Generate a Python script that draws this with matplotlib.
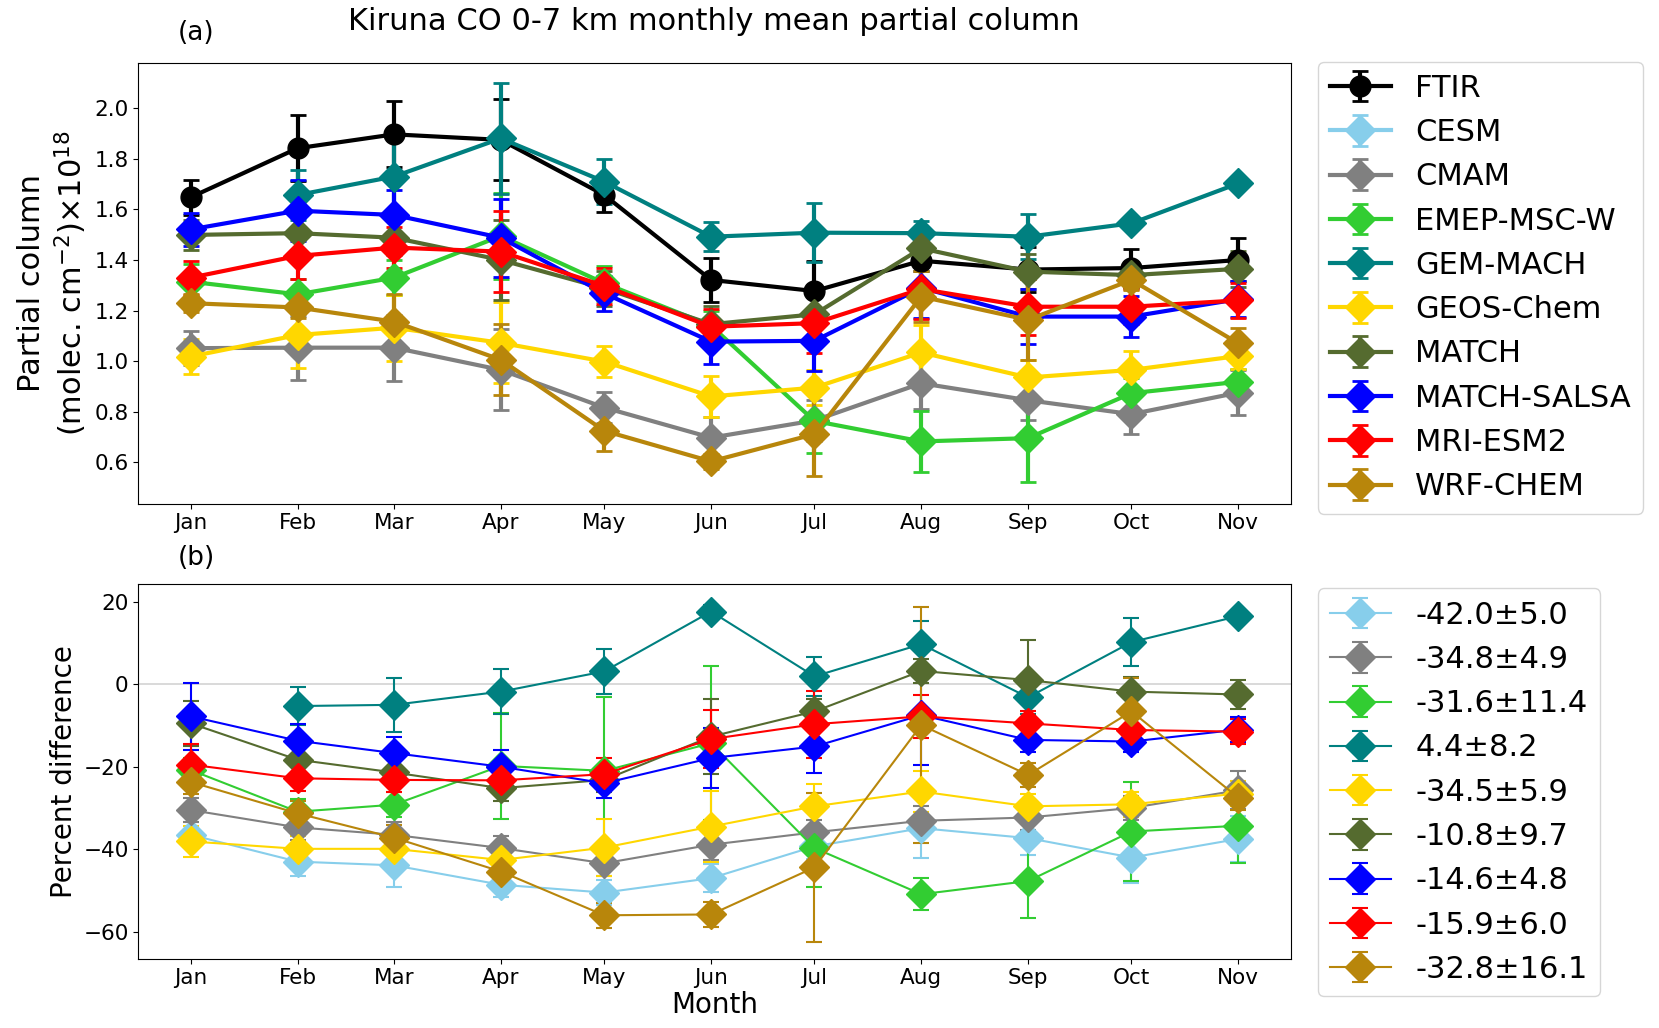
import numpy as np
import pandas as pd
import matplotlib
matplotlib.use("Agg")
import matplotlib.pyplot as plt

months = ["Jan", "Feb", "Mar", "Apr", "May", "Jun", "Jul", "Aug", "Sep", "Oct", "Nov"]
nan = np.nan

# ---- panel (a): partial columns (x1e18 molec cm-2) ----
ftir      = [1.648, 1.842, 1.897, 1.875, 1.657, 1.321, 1.277, 1.397, 1.362, 1.368, 1.400]
ftir_err  = [0.070, 0.130, 0.130, 0.160, 0.066, 0.086, 0.120, 0.040, 0.090, 0.075, 0.085]
cesm      = [nan] * 11
cesm_err  = [nan] * 11
cmam      = [1.051, 1.053, 1.053, 0.965, 0.816, 0.697, 0.765, 0.912, 0.845, 0.790, 0.875]
cmam_err  = [0.066, 0.127, 0.130, 0.160, 0.063, 0.080, 0.080, 0.100, 0.080, 0.080, 0.090]
emep      = [1.314, 1.264, 1.330, 1.495, 1.308, 1.140, 0.763, 0.682, 0.695, 0.873, 0.918]
emep_err  = [0.070, 0.060, 0.070, 0.170, 0.070, 0.060, 0.127, 0.120, 0.175, 0.060, 0.050]
gem       = [nan, 1.657, 1.730, 1.881, 1.710, 1.492, 1.508, 1.506, 1.492, 1.545, 1.703]
gem_err   = [nan, 0.100, 0.150, 0.220, 0.090, 0.057, 0.116, 0.050, 0.090, 0.000, 0.000]
geos      = [1.018, 1.103, 1.132, 1.072, 0.998, 0.860, 0.895, 1.034, 0.935, 0.965, 1.020]
geos_err  = [0.070, 0.130, 0.130, 0.160, 0.063, 0.080, 0.070, 0.110, 0.070, 0.075, 0.050]
match     = [1.499, 1.506, 1.488, 1.400, 1.288, 1.146, 1.185, 1.446, 1.354, 1.340, 1.365]
match_err = [0.060, 0.070, 0.070, 0.160, 0.070, 0.070, 0.100, 0.050, 0.070, 0.050, 0.070]
salsa     = [1.521, 1.595, 1.578, 1.488, 1.268, 1.077, 1.080, 1.290, 1.176, 1.176, 1.245]
salsa_err = [0.066, 0.120, 0.100, 0.155, 0.070, 0.090, 0.120, 0.120, 0.110, 0.080, 0.070]
mri       = [1.330, 1.416, 1.449, 1.433, 1.297, 1.136, 1.150, 1.285, 1.215, 1.215, 1.240]
mri_err   = [0.067, 0.090, 0.080, 0.160, 0.070, 0.070, 0.120, 0.120, 0.110, 0.070, 0.070]
wrf       = [1.229, 1.212, 1.156, 1.005, 0.724, 0.603, 0.711, 1.255, 1.163, 1.321, 1.070]
wrf_err   = [0.035, 0.040, 0.110, 0.140, 0.080, 0.030, 0.165, 0.100, 0.160, 0.040, 0.060]

# ---- panel (b): percent difference ----
cesm_pd   = [-36.5, -43.0, -43.9, -48.6, -50.5, -47.0, -39.3, -34.9, -37.3, -42.0, -37.5]
cesm_pe   = [3.0, 3.6, 5.3, 3.0, 3.0, 3.4, 3.0, 7.3, 4.0, 6.2, 5.5]
cmam_pd   = [-30.5, -34.7, -36.5, -39.7, -43.4, -38.9, -35.9, -33.1, -32.3, -30.0, -25.7]
cmam_pe   = [3.0, 3.0, 3.0, 3.0, 3.0, 3.6, 3.0, 3.5, 3.0, 3.0, 4.6]
emep_pd   = [-20.8, -30.9, -29.2, -19.8, -21.0, -14.3, -39.7, -50.9, -47.7, -35.7, -34.3]
emep_pe   = [3.0, 3.0, 3.0, 12.8, 18.0, 18.6, 9.5, 3.9, 9.0, 12.0, 9.0]
gem_pd    = [nan, -5.3, -5.0, -1.8, 3.1, 17.6, 1.9, 9.7, -3.2, 10.2, 16.5]
gem_pe    = [nan, 4.5, 6.5, 5.5, 5.4, 1.5, 4.8, 5.7, 4.0, 5.8, 0.0]
geos_pd   = [-38.1, -39.9, -39.9, -42.6, -39.6, -34.5, -29.6, -26.0, -29.6, -29.1, -26.5]
geos_pe   = [3.8, 3.0, 3.0, 3.0, 7.0, 8.5, 5.4, 5.0, 3.0, 3.0, 3.0]
match_pd  = [-9.5, -18.3, -21.4, -25.2, -23.2, -12.7, -6.6, 3.2, 1.0, -1.8, -2.5]
match_pe  = [5.5, 3.0, 3.0, 3.0, 3.0, 9.0, 3.0, 3.0, 9.7, 3.5, 3.5]
salsa_pd  = [-7.8, -13.7, -16.7, -20.0, -24.0, -17.9, -15.1, -7.5, -13.5, -13.9, -11.0]
salsa_pe  = [8.1, 4.0, 4.0, 4.0, 3.6, 7.3, 6.5, 12.0, 3.0, 2.5, 3.0]
mri_pd    = [-19.5, -22.8, -23.2, -23.3, -21.8, -13.3, -9.7, -7.8, -9.5, -11.1, -11.5]
mri_pe    = [5.0, 3.0, 3.0, 3.0, 3.8, 7.1, 8.1, 5.2, 3.0, 3.0, 3.0]
wrf_pd    = [-23.7, -31.3, -37.2, -45.4, -56.0, -55.8, -44.4, -9.9, -22.0, -6.6, -27.5]
wrf_pe    = [3.0, 3.0, 3.0, 3.0, 3.0, 3.0, 18.0, 28.7, 3.0, 8.2, 3.0]

model_names = ["CESM", "CMAM", "EMEP-MSC-W", "GEM-MACH", "GEOS-Chem", "MATCH",
               "MATCH-SALSA", "MRI-ESM2", "WRF-CHEM"]
model_colors = ["skyblue", "gray", "limegreen", "teal", "gold", "darkolivegreen",
                "blue", "red", "darkgoldenrod"]
model_vals = [cesm, cmam, emep, gem, geos, match, salsa, mri, wrf]
model_errs = [cesm_err, cmam_err, emep_err, gem_err, geos_err, match_err, salsa_err, mri_err, wrf_err]
pd_vals = [cesm_pd, cmam_pd, emep_pd, gem_pd, geos_pd, match_pd, salsa_pd, mri_pd, wrf_pd]
pd_errs = [cesm_pe, cmam_pe, emep_pe, gem_pe, geos_pe, match_pe, salsa_pe, mri_pe, wrf_pe]
pd_labels = ["-42.0±5.0", "-34.8±4.9", "-31.6±11.4", "4.4±8.2", "-34.5±5.9",
             "-10.8±9.7", "-14.6±4.8", "-15.9±6.0", "-32.8±16.1"]

dates = pd.to_datetime([f"2021-{i+1:02d}-15" for i in range(len(months))])

fig = plt.figure(figsize=(16.59, 10.28), dpi=100)
ax1 = fig.add_axes([0.0834, 0.5101, 0.6946, 0.4283])
ax2 = fig.add_axes([0.0834, 0.0675, 0.6946, 0.3641])

ms = 15
# panel (a)
ax1.errorbar(dates, ftir, yerr=ftir_err, color="black", marker="o", ms=ms, lw=3,
             elinewidth=3, capsize=6, capthick=2, label="FTIR")
for name, col, v, e in zip(model_names, model_colors, model_vals, model_errs):
    ax1.errorbar(dates, v, yerr=e, color=col, marker="D", ms=ms, lw=3,
                 elinewidth=3, capsize=6, capthick=2, label=name)
ax1.set_ylim(0.436, 2.178)
ax1.set_xticks(dates)
ax1.set_xticklabels(months)
ax1.tick_params(labelsize=15.5)
ax1.set_ylabel("Partial column\n(molec. cm$^{-2}$)×10$^{18}$", fontsize=22)
ax1.legend(loc="upper left", bbox_to_anchor=(1.0234, 1.004), borderaxespad=0,
           fontsize=22, labelspacing=0.5, handlelength=2.0)
ax1.text(0.05, 1.07, "(a)", transform=ax1.transAxes, fontsize=19, ha="center", va="center")
fig.text(714 / 1659, 1 - 21 / 1028, "Kiruna CO 0-7 km monthly mean partial column",
         fontsize=22, ha="center", va="center")

# panel (b)
ax2.axhline(0, color="lightgray", lw=1.2, zorder=0)
for lab, col, v, e in zip(pd_labels, model_colors, pd_vals, pd_errs):
    ax2.errorbar(dates, v, yerr=e, color=col, marker="D", ms=ms, lw=1.5,
                 elinewidth=1.5, capsize=6, capthick=1.5, label=lab)
ax2.set_ylim(-66.5, 24.2)
ax2.set_xticks(dates)
ax2.set_xticklabels(months)
ax2.tick_params(labelsize=15.5)
ax2.set_ylabel("Percent difference", fontsize=20)
ax2.set_xlabel("Month", fontsize=20, labelpad=2)
ax2.legend(loc="upper left", bbox_to_anchor=(1.0234, 0.989), borderaxespad=0,
           fontsize=22, labelspacing=0.5, handlelength=2.0)
ax2.text(0.05, 1.07, "(b)", transform=ax2.transAxes, fontsize=19, ha="center", va="center")

fig.savefig("out.png", dpi=100)
